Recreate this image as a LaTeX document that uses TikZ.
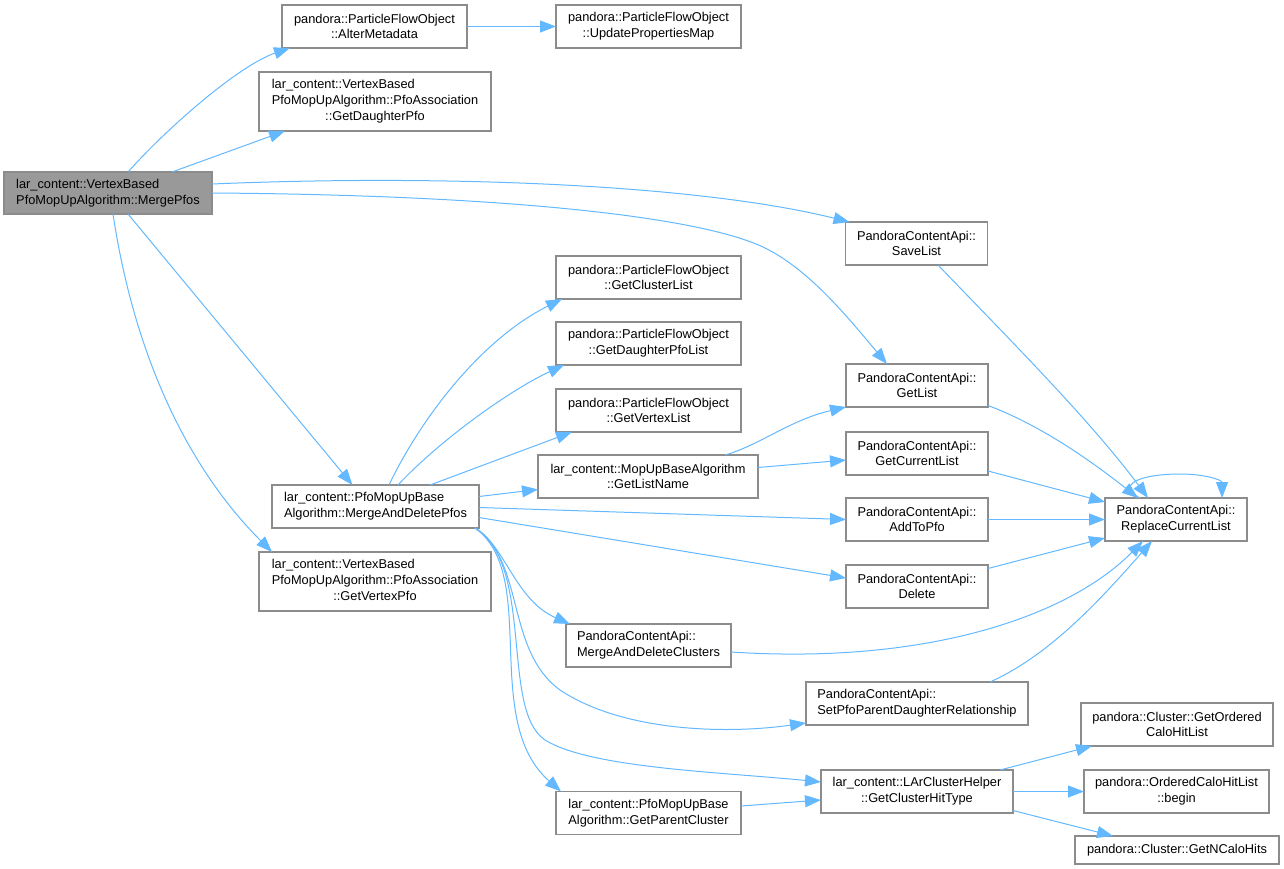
\documentclass[tikz,border=0pt]{standalone}
\usepackage{fontspec}
\setmainfont{Liberation Sans}
\usetikzlibrary{positioning,arrows.meta}
\definecolor{edgeblue}{HTML}{63B8FF}
\definecolor{boxline}{HTML}{8C8C8C}
\definecolor{rootfill}{HTML}{999999}

\begin{document}
\begin{tikzpicture}[x=1pt, y=-1pt, fn/.style={draw=boxline, line width=1.4pt, fill=white, inner sep=0pt, outer sep=0pt, font=\fontsize{12.8}{15.7}\selectfont, minimum height=43pt}, fnc/.style={fn, align=center}, fnl/.style={fn, align=left}, call/.style={draw=edgeblue, line width=1pt, -{Triangle[length=16pt,width=12pt]}}]
    \useasboundingbox (0,0) rectangle (1284,869);

    \node[fn, fill=rootfill, align=left, minimum width=208pt, minimum height=42pt] (MP) at (108,193) {lar\_content::VertexBased\\PfoMopUpAlgorithm::MergePfos};

    \node[fnc, minimum width=185pt] (AM) at (374.5,26.5) {pandora::ParticleFlowObject\\::AlterMetadata};
    \node[fnc, minimum width=185pt, right=89pt of AM] (UPM) {pandora::ParticleFlowObject\\::UpdatePropertiesMap};
    \node[fn, minimum width=232pt, minimum height=59pt] (GDP) at (375,101.5) {\begin{tabular}{@{}l@{}}lar\_content::VertexBased\\PfoMopUpAlgorithm::PfoAssociation\\\multicolumn{1}{@{}c@{}}{::GetDaughterPfo}\end{tabular}};
    \node[fnl, minimum width=207pt] (MADP) at (375.5,506.5) {lar\_content::PfoMopUpBase\\Algorithm::MergeAndDeletePfos};
    \node[fn, minimum width=232pt, minimum height=59pt] (GVP) at (375,581.5) {\begin{tabular}{@{}l@{}}lar\_content::VertexBased\\PfoMopUpAlgorithm::PfoAssociation\\\multicolumn{1}{@{}c@{}}{::GetVertexPfo}\end{tabular}};

    \node[fnc, minimum width=185pt] (GCL) at (648.5,277.5) {pandora::ParticleFlowObject\\::GetClusterList};
    \node[fnc, minimum width=185pt, below=23pt of GCL] (GDPL) {pandora::ParticleFlowObject\\::GetDaughterPfoList};
    \node[fnc, minimum width=185pt, below=24pt of GDPL] (GVL) {pandora::ParticleFlowObject\\::GetVertexList};
    \node[fnc, minimum width=220pt] (GLN) at (648,476.5) {lar\_content::MopUpBaseAlgorithm\\::GetListName};
    \node[fnl, minimum width=165pt] (MADC) at (648.5,645.5) {PandoraContentApi::\\MergeAndDeleteClusters};
    \node[fnl, minimum width=185pt] (GPC) at (648.5,813) {lar\_content::PfoMopUpBase\\Algorithm::GetParentCluster};

    \node[fnc, minimum width=142pt] (SL) at (916.5,243.5) {PandoraContentApi::\\SaveList};
    \node[fnc, minimum width=142pt] (GL) at (917,385.5) {PandoraContentApi::\\GetList};
    \node[fnc, minimum width=142pt, below=25pt of GL] (GCUR) {PandoraContentApi::\\GetCurrentList};
    \node[fnc, minimum width=142pt, below=23pt of GCUR] (ATP) {PandoraContentApi::\\AddToPfo};
    \node[fnc, minimum width=142pt, below=24pt of ATP] (DEL) {PandoraContentApi::\\Delete};
    \node[fnc, minimum width=142pt, right=117pt of ATP] (RCL) {PandoraContentApi::\\ReplaceCurrentList};
    \node[fnl, minimum width=222pt] (SPD) at (917,703.5) {PandoraContentApi::\\SetPfoParentDaughterRelationship};
    \node[fnc, minimum width=192pt] (GCHT) at (917,791.5) {lar\_content::LArClusterHelper\\::GetClusterHitType};

    \node[fnc, minimum width=192pt] (GOC) at (1177,724.5) {pandora::Cluster::GetOrdered\\CaloHitList};
    \node[fnc, minimum width=185pt] (BEG) at (1176.5,791.5) {pandora::OrderedCaloHitList\\::begin};
    \node[fnc, minimum width=204pt, minimum height=28pt] (GNC) at (1177,850) {pandora::Cluster::GetNCaloHits};

    % calls out of MergePfos
    \draw[call] ([xshift=20pt]MP.north) .. controls (170,125) and (240,65) .. ([xshift=8pt]AM.south west);
    \draw[call] ([xshift=64pt]MP.north) -- ([xshift=26pt]GDP.south west);
    \draw[call] ([yshift=9pt]MP.east) .. controls (450,174) and (700,185) .. ([xshift=4pt]SL.north west);
    \draw[call] (MP.east) .. controls (500,195) and (700,216) .. (765,248) .. controls (810,270) and (850,320) .. ([xshift=-30pt]GL.north);
    \draw[call] ([xshift=20pt]MP.south) -- ([xshift=-23pt]MADP.north);
    \draw[call] ([xshift=5pt]MP.south) .. controls (135,360) and (190,470) .. ([xshift=13pt]GVP.north west);
    \draw[call] (AM) -- (UPM);

    % calls out of MergeAndDeletePfos
    \draw[call] ([xshift=13.5pt]MADP.north) .. controls (420,420) and (480,340) .. ([xshift=6pt]GCL.south west);
    \draw[call] ([xshift=22.5pt]MADP.north) .. controls (440,440) and (510,390) .. ([xshift=8pt]GDPL.south west);
    \draw[call] ([xshift=54.5pt]MADP.north) -- ([xshift=16pt]GVL.south west);
    \draw[call] ([yshift=10pt]MADP.east) -- ([yshift=-13pt]GLN.west);
    \draw[call] ([yshift=-1pt]MADP.east) -- (ATP.west);
    \draw[call] ([yshift=-11pt]MADP.east) -- ([yshift=8.5pt]DEL.west);
    \draw[call] ([xshift=-4pt]MADP.south east) .. controls (505,545) and (515,600) .. ([xshift=4pt]MADC.north west);
    \draw[call] ([xshift=-4pt]MADP.south east) .. controls (525,560) and (505,650) .. (560,690) .. controls (620,730) and (720,735) .. ([yshift=2pt]SPD.south west);
    \draw[call] ([xshift=-4pt]MADP.south east) .. controls (535,565) and (500,710) .. (545,740) .. controls (590,768) and (720,772) .. ([yshift=9.5pt]GCHT.west);
    \draw[call] ([xshift=-4pt]MADP.south east) .. controls (540,575) and (480,720) .. ([xshift=5pt]GPC.north west);

    \draw[call] ([xshift=-33pt]GLN.north east) .. controls (760,445) and (790,420) .. (GL.south west);
    \draw[call] ([yshift=9pt]GLN.east) -- ([yshift=-6.5pt]GCUR.west);

    % into ReplaceCurrentList
    \draw[call] ([xshift=21.5pt]SL.south) .. controls (1010,340) and (1090,420) .. ([xshift=43pt]RCL.north west);
    \draw[call] ([yshift=-20pt]GL.east) .. controls (1040,425) and (1090,460) .. ([xshift=33pt]RCL.north west);
    \draw[call] ([yshift=-17.5pt]GCUR.east) -- ([yshift=-4pt]RCL.north west);
    \draw[call] (ATP.east) -- (RCL.west);
    \draw[call] ([yshift=18pt]DEL.east) -- ([yshift=3pt]RCL.south west);
    \draw[call] ([yshift=-6.5pt]MADC.east) .. controls (930,665) and (1070,615) .. ([xshift=38pt]RCL.south west);
    \draw[call] ([xshift=73pt]SPD.north) .. controls (1050,655) and (1100,600) .. ([xshift=47pt]RCL.south west);
    \draw[call] ([xshift=35pt]RCL.north west) .. controls (1115,485) and (1140,474) .. (1180,474) .. controls (1205,474) and (1222,480) .. ([xshift=117pt]RCL.north west);

    \draw[call] ([yshift=7pt]GPC.east) -- ([yshift=-8.5pt]GCHT.west);
    \draw[call] ([xshift=-13pt]GCHT.north east) -- ([xshift=11pt]GOC.south west);
    \draw[call] (GCHT.east) -- (BEG.west);
    \draw[call] ([yshift=-19pt]GCHT.east) -- ([xshift=38pt]GNC.north west);
\end{tikzpicture}
\end{document}
